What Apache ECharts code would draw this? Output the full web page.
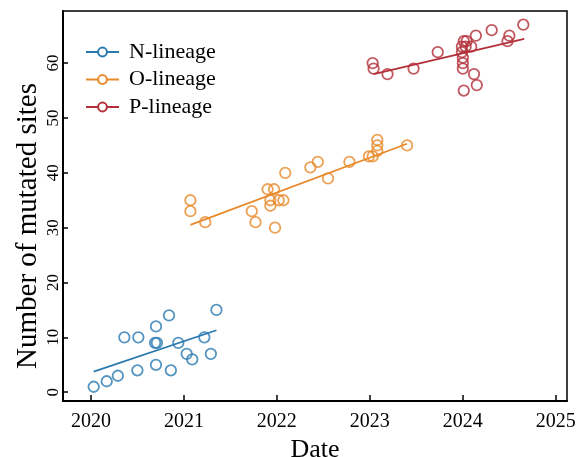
<!DOCTYPE html>
<html>
<head>
<meta charset="utf-8">
<script src="https://cdn.jsdelivr.net/npm/echarts@6/dist/echarts.min.js"></script>
<style>html,body{margin:0;padding:0;background:#fff}#c{width:577px;height:457px}</style>
</head>
<body>
<div id="c"></div>
<script>
// ---- data ----
const seriesNames = ['N-lineage', 'O-lineage', 'P-lineage'];
const nX = [2020.03,2020.17,2020.29,2020.36,2020.51,2020.50,2020.70,2020.69,2020.71,2020.70,2020.84,2020.86,2020.94,2021.03,2021.09,2021.22,2021.29,2021.35];
const nY = [1,2,3,10,10,4,12,9,9,5,14,4,9,7,6,10,7,15];
const oX = [2021.07,2021.07,2021.23,2021.73,2021.77,2021.90,2021.97,2021.93,2021.93,2022.02,2022.07,2021.98,2022.09,2022.36,2022.44,2022.55,2022.78,2022.99,2023.03,2023.08,2023.08,2023.08,2023.40];
const oY = [35,33,31,33,31,37,37,35,34,35,35,30,40,41,42,39,42,43,43,46,45,44,45];
const pX = [2023.03,2023.04,2023.19,2023.47,2023.73,2024.01,2024.04,2023.99,2024.03,2023.99,2024.00,2024.00,2024.00,2024.09,2024.14,2024.12,2024.15,2024.01,2024.31,2024.50,2024.48,2024.65];
const pY = [60,59,58,59,62,64,64,63,63,62,61,60,59,63,65,58,56,55,66,65,64,67];
// trend line endpoints
const nTrendX = [2020.03, 2021.35], nTrendY = [3.75, 11.3];
const oTrendX = [2021.07, 2023.40], oTrendY = [30.5, 45.3];
const pTrendX = [2023.04, 2024.66], pTrendY = [58.0, 64.4];
const xTicks = ['2020','2021','2022','2023','2024','2025'];
const yTicks = ['0','10','20','30','40','50','60'];
const xTitle = 'Date';
const yTitle = 'Number of mutated sites';

// ---- chart ----
const colors = ['#2a7ab0', '#e88a2a', '#b3303a'];
const FONT = '"Liberation Serif","Times New Roman",serif';
const zip = (a, b) => a.map((v, i) => [v, b[i]]);
const groups = [[nX, nY, nTrendX, nTrendY], [oX, oY, oTrendX, oTrendY], [pX, pY, pTrendX, pTrendY]];
const series = [];
groups.forEach((g, i) => {
  series.push({
    name: seriesNames[i], type: 'line', data: zip(g[2], g[3]),
    showSymbol: false, symbol: 'emptyCircle', symbolSize: 8,
    lineStyle: { color: colors[i], width: 1.8 },
    itemStyle: { color: colors[i], borderColor: colors[i], borderWidth: 1.5 },
    silent: true, z: 3
  });
  series.push({
    name: seriesNames[i] + ' points', type: 'scatter', data: zip(g[0], g[1]),
    symbol: 'circle', symbolSize: 10.5,
    itemStyle: { color: 'rgba(255,255,255,0)', borderColor: colors[i], borderWidth: 1.8 },
    silent: true, z: 4
  });
});

const chart = echarts.init(document.getElementById('c'), null, { renderer: 'canvas' });
chart.setOption({
  animation: false,
  backgroundColor: '#fff',
  grid: { left: 63, right: 10, top: 11, bottom: 56, containLabel: false, outerBoundsMode: 'none',
          show: true, borderColor: '#000', borderWidth: 1.5, backgroundColor: 'transparent' },
  legend: {
    data: seriesNames, orient: 'vertical', left: 85, top: 41, padding: 0,
    itemWidth: 33, itemHeight: 11, itemGap: 5.5,
    textStyle: { fontFamily: FONT, fontSize: 22, color: '#000', padding: [0, 0, 0, 5] }
  },
  graphic: [{
    type: 'text', x: 28, y: 226, rotation: Math.PI / 2, silent: true,
    style: { text: yTitle, font: '29px "Liberation Serif","Times New Roman",serif', fill: '#000', align: 'center', verticalAlign: 'middle' }
  }],
  xAxis: {
    type: 'value', min: 2019.70, max: 2025.12, minInterval: 1, maxInterval: 1,
    name: xTitle, nameLocation: 'middle', nameGap: 23,
    nameTextStyle: { fontFamily: FONT, fontSize: 26, color: '#000' },
    axisLine: { onZero: false, lineStyle: { color: '#000', width: 2 } },
    axisTick: { inside: true, length: 6, lineStyle: { color: '#000', width: 1.5 } },
    axisLabel: {
      fontFamily: FONT, fontSize: 20, color: '#000', margin: 11,
      showMinLabel: false, showMaxLabel: false,
      formatter: v => { const s = String(Math.round(v)); return xTicks.includes(s) && Math.abs(v - Math.round(v)) < 1e-6 ? s : ''; }
    },
    splitLine: { show: false }
  },
  yAxis: {
    type: 'value', min: -1.6, max: 69.5, minInterval: 10, maxInterval: 10,
    axisLine: { onZero: false, lineStyle: { color: '#000', width: 2 } },
    axisTick: { inside: true, length: 5, lineStyle: { color: '#000', width: 1.5 } },
    axisLabel: {
      fontFamily: FONT, fontSize: 17, color: '#000', margin: 1, rotate: 90,
      showMinLabel: false, showMaxLabel: false,
      formatter: v => { const s = String(Math.round(v)); return yTicks.includes(s) && Math.abs(v - Math.round(v)) < 1e-6 ? s : ''; }
    },
    splitLine: { show: false }
  },
  series: series
});
</script>
</body>
</html>
